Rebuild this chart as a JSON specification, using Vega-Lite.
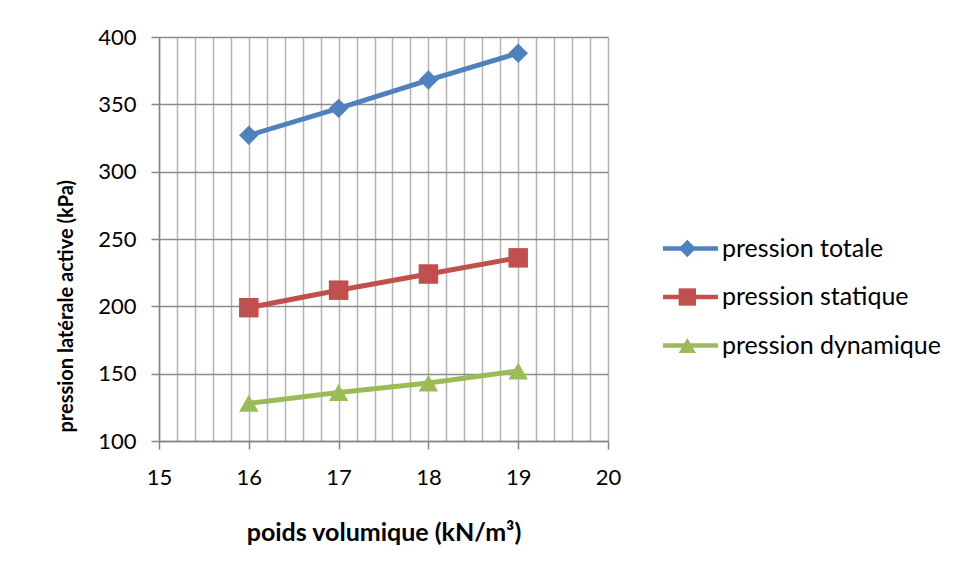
{
  "$schema": "https://vega.github.io/schema/vega-lite/v6.json",
  "autosize": {"type": "none"},
  "width": 449,
  "height": 404,
  "padding": {"left": 159, "top": 37, "right": 349, "bottom": 139},
  "background": "white",
  "data": {
    "values": [
      {"poids": 16, "pression": 327, "serie": "pression totale"},
      {"poids": 17, "pression": 347, "serie": "pression totale"},
      {"poids": 18, "pression": 368, "serie": "pression totale"},
      {"poids": 19, "pression": 388, "serie": "pression totale"},
      {"poids": 16, "pression": 199, "serie": "pression statique"},
      {"poids": 17, "pression": 212, "serie": "pression statique"},
      {"poids": 18, "pression": 224, "serie": "pression statique"},
      {"poids": 19, "pression": 236, "serie": "pression statique"},
      {"poids": 16, "pression": 128, "serie": "pression dynamique"},
      {"poids": 17, "pression": 136, "serie": "pression dynamique"},
      {"poids": 18, "pression": 143, "serie": "pression dynamique"},
      {"poids": 19, "pression": 152, "serie": "pression dynamique"}
    ]
  },
  "config": {
    "view": {"stroke": null},
    "font": "Lato",
    "axis": {
      "labelFont": "Lato",
      "labelFontSize": 22,
      "labelColor": "#000000",
      "titleFont": "Lato",
      "titleFontWeight": "bold",
      "titleColor": "#000000",
      "domainColor": "#868686",
      "domainWidth": 1.5,
      "tickColor": "#868686",
      "tickWidth": 1.5,
      "tickSize": 8
    },
    "legend": {
      "padding": 0,
      "labelFont": "Lato",
      "labelFontSize": 25,
      "labelColor": "#000000",
      "labelLimit": 400,
      "rowPadding": 22.5
    }
  },
  "resolve": {"legend": {"color": "independent", "shape": "independent"}},
  "encoding": {
    "x": {
      "field": "poids",
      "type": "quantitative",
      "scale": {"domain": [15, 20], "nice": false, "zero": false},
      "axis": {
        "title": "poids volumique (kN/m³)",
        "titleFontSize": 25,
        "values": [15, 15.2, 15.4, 15.6, 15.8, 16, 16.2, 16.4, 16.6, 16.8, 17, 17.2, 17.4, 17.6, 17.8, 18, 18.2, 18.4, 18.6, 18.8, 19, 19.2, 19.4, 19.6, 19.8, 20],
        "labelExpr": "abs(datum.value - round(datum.value)) < 0.01 ? format(datum.value, 'd') : ''",
        "tickOpacity": {"condition": {"test": "abs(datum.value - round(datum.value)) < 0.01", "value": 1}, "value": 0},
        "grid": true,
        "gridColor": "#b4b4b4",
        "gridWidth": 1.5,
        "labelPadding": 18,
        "labelFlush": false,
        "labelOverlap": false,
        "titlePadding": 32
      }
    },
    "y": {
      "field": "pression",
      "type": "quantitative",
      "scale": {"domain": [100, 400], "nice": false, "zero": false},
      "axis": {
        "title": "pression latérale active (kPa)",
        "titleFontSize": 20,
        "values": [100, 150, 200, 250, 300, 350, 400],
        "grid": true,
        "gridColor": "#8c8c8c",
        "gridWidth": 1.5,
        "labelPadding": 15,
        "titleAnchor": "start",
        "titleY": 395,
        "titlePadding": 21
      }
    }
  },
  "layer": [
    {
      "mark": {"type": "line", "strokeWidth": 5},
      "encoding": {
        "color": {
          "field": "serie",
          "type": "nominal",
          "scale": {
            "domain": ["pression totale", "pression statique", "pression dynamique"],
            "range": ["#4F81BD", "#C0504D", "#9BBB59"]
          },
          "legend": {
            "title": null,
            "orient": "none",
            "legendX": 497,
            "legendY": 199,
            "symbolType": "M-1,0H9",
            "symbolSize": 121,
            "symbolStrokeWidth": 4.5,
            "labelOffset": 41
          }
        }
      }
    },
    {
      "mark": {"type": "point", "filled": true, "opacity": 1},
      "encoding": {
        "color": {
          "field": "serie",
          "type": "nominal",
          "scale": {
            "domain": ["pression totale", "pression statique", "pression dynamique"],
            "range": ["#4F81BD", "#C0504D", "#9BBB59"]
          },
          "legend": {
            "title": null,
            "orient": "none",
            "legendX": 515.8,
            "legendY": 199,
            "symbolSize": 300,
            "symbolStrokeWidth": 0,
            "labelExpr": "''",
            "labelOffset": 0
          }
        },
        "shape": {
          "field": "serie",
          "type": "nominal",
          "scale": {
            "domain": ["pression totale", "pression statique", "pression dynamique"],
            "range": ["diamond", "square", "triangle-up"]
          },
          "legend": {
            "title": null,
            "orient": "none",
            "legendX": 515.8,
            "legendY": 199,
            "symbolSize": 300,
            "symbolStrokeWidth": 0,
            "labelExpr": "''",
            "labelOffset": 0
          }
        },
        "size": {"value": 380}
      }
    }
  ]
}
